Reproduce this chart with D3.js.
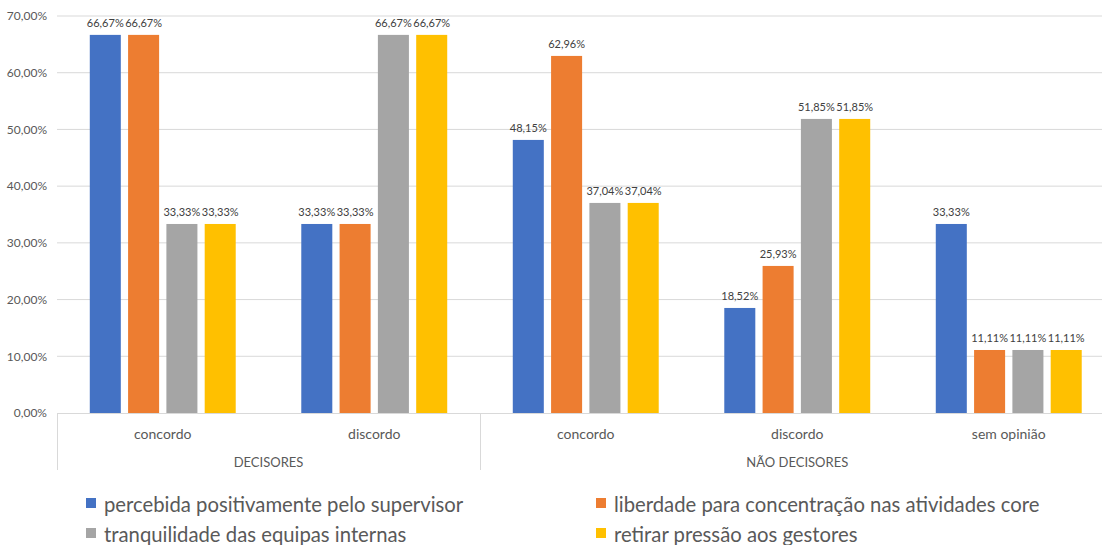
<!DOCTYPE html>
<html>
<head>
<meta charset="utf-8">
<script src="https://cdn.jsdelivr.net/npm/d3@7"></script>
<style>
  body { margin: 0; background: #fff; }
  svg { display: block; font-family: Lato, "Noto Sans", sans-serif; }
</style>
</head>
<body>
<svg id="chart" width="1102" height="545"></svg>
<script>
const categories = ["concordo", "discordo", "concordo", "discordo", "sem opinião"];
const groups = [
  { label: "DECISORES", from: 0, to: 2 },
  { label: "NÃO DECISORES", from: 2, to: 5 }
];
const seriesNames = [
  "percebida positivamente pelo supervisor",
  "liberdade para concentração nas atividades core",
  "tranquilidade das equipas internas",
  "retirar pressão aos gestores"
];
const percebida = [66.67, 33.33, 48.15, 18.52, 33.33];
const liberdade = [66.67, 33.33, 62.96, 25.93, 11.11];
const tranquilidade = [33.33, 66.67, 37.04, 51.85, 11.11];
const retirar = [33.33, 66.67, 37.04, 51.85, 11.11];
const yTicks = [0, 10, 20, 30, 40, 50, 60, 70];
const colors = ["#4472C4", "#ED7D31", "#A5A5A5", "#FFC000"];

const seriesValues = [percebida, liberdade, tranquilidade, retirar];
const fmt = v => v.toFixed(2).replace(".", ",") + "%";

const svg = d3.select("#chart");
const margin = { left: 57, top: 16, bottom: 413 };
const plotRight = 1114.5; // plot runs past the picture's right edge

const idx = d3.range(categories.length);
const x0 = d3.scaleBand().domain(idx).range([margin.left, plotRight])
  .paddingInner(0.31).paddingOuter(0.155);
const x1 = d3.scaleBand().domain(d3.range(seriesNames.length))
  .range([0, x0.bandwidth()]).paddingInner(0.19);
const y = d3.scaleLinear().domain([0, 70]).range([margin.bottom, margin.top]);

// gridlines
svg.append("g")
  .selectAll("line")
  .data(yTicks.filter(t => t > 0))
  .join("line")
  .attr("x1", margin.left).attr("x2", 1102)
  .attr("y1", d => y(d)).attr("y2", d => y(d))
  .attr("stroke", "#d9d9d9").attr("stroke-width", 1);

// y axis labels
const yAxis = svg.append("g")
  .attr("transform", `translate(${margin.left - 10},0)`)
  .call(d3.axisLeft(y).tickValues(yTicks).tickSize(0).tickFormat(fmt));
yAxis.select(".domain").remove();
yAxis.selectAll("text")
  .attr("x", 0)
  .attr("fill", "#595959")
  .style("font-size", "12px")
  .style("font-family", "Lato, 'Noto Sans', sans-serif");

// bars
seriesValues.forEach((vals, s) => {
  const g = svg.append("g");
  g.selectAll("rect")
    .data(vals)
    .join("rect")
    .attr("x", (d, i) => x0(i) + x1(s))
    .attr("y", d => y(d))
    .attr("width", x1.bandwidth())
    .attr("height", d => y(0) - y(d))
    .attr("fill", colors[s]);
  g.selectAll("text")
    .data(vals)
    .join("text")
    .attr("x", (d, i) => x0(i) + x1(s) + x1.bandwidth() / 2)
    .attr("y", d => y(d) - 8)
    .attr("text-anchor", "middle")
    .attr("fill", "#404040")
    .style("font-size", "11px")
    .text(fmt);
});

// category axis
const axisColor = "#d9d9d9";
const axisG = svg.append("g");
axisG.append("line")
  .attr("x1", margin.left).attr("x2", 1102)
  .attr("y1", y(0) + 0.5).attr("y2", y(0) + 0.5)
  .attr("stroke", axisColor);
const step = x0.step();
const boundaries = [0, 2, 5].map(i => margin.left + i * step);
boundaries.forEach(bx => {
  axisG.append("line")
    .attr("x1", Math.round(bx) + 0.5).attr("x2", Math.round(bx) + 0.5)
    .attr("y1", y(0)).attr("y2", 470)
    .attr("stroke", axisColor);
});
axisG.selectAll("text.cat")
  .data(categories)
  .join("text")
  .attr("class", "cat")
  .attr("x", (d, i) => x0(i) + x0.bandwidth() / 2)
  .attr("y", 439)
  .attr("text-anchor", "middle")
  .attr("fill", "#595959")
  .style("font-size", "14px")
  .text(d => d);
axisG.selectAll("text.grp")
  .data(groups)
  .join("text")
  .attr("class", "grp")
  .attr("x", d => margin.left + (d.from + d.to) / 2 * step)
  .attr("y", 467)
  .attr("text-anchor", "middle")
  .attr("fill", "#595959")
  .style("font-size", "13px")
  .text(d => d.label);

// legend
const legendPos = [[86, 512], [596, 512], [86, 542], [596, 542]];
seriesNames.forEach((name, s) => {
  const [lx, ly] = legendPos[s];
  svg.append("rect")
    .attr("x", lx).attr("y", ly - 14)
    .attr("width", 10).attr("height", 10)
    .attr("fill", colors[s]);
  svg.append("text")
    .attr("x", lx + 18).attr("y", ly)
    .attr("fill", "#595959")
    .style("font-size", "20.3px")
    .text(name);
});
</script>
</body>
</html>
